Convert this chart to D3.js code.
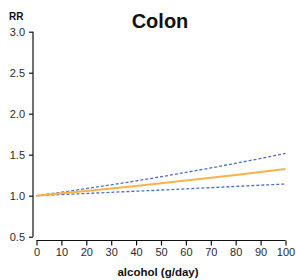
<!DOCTYPE html>
<html><head><meta charset="utf-8">
<script src="https://cdn.jsdelivr.net/npm/d3@7"></script>
<style>body{margin:0;background:#fff}svg{display:block;font-family:"Liberation Sans",Arial,sans-serif}</style>
</head><body>
<script>
const alcohol = [0,10,20,30,40,50,60,70,80,90,100];
const rr      = [1.000,1.029,1.058,1.088,1.119,1.151,1.184,1.218,1.252,1.288,1.325];
const upper   = [1.000,1.042,1.087,1.133,1.181,1.231,1.284,1.338,1.395,1.454,1.516];
const lower   = [1.000,1.013,1.027,1.041,1.055,1.069,1.084,1.098,1.113,1.128,1.143];
const xTicks  = [0,10,20,30,40,50,60,70,80,90,100];
const yTicks  = [0.5,1.0,1.5,2.0,2.5,3.0];

const W=296,H=280;
const svg=d3.select("body").append("svg").attr("width",W).attr("height",H);
const x=d3.scaleLinear().domain([0,100]).range([36.5,285.5]);
const y=d3.scaleLinear().domain([0.5,3]).range([236.7,31.7]);

const xa=svg.append("g").attr("transform","translate(0,240.5)")
  .call(d3.axisBottom(x).tickValues(xTicks).tickFormat(d3.format("d")).tickSize(5).tickPadding(3));
const ya=svg.append("g").attr("transform","translate(33,0)")
  .call(d3.axisLeft(y).tickValues(yTicks).tickFormat(d3.format(".1f")).tickSize(4).tickPadding(4));
[xa,ya].forEach(a=>{
  a.select(".domain").attr("stroke","#111").attr("stroke-width",1.2);
  a.selectAll(".tick line").attr("stroke","#111").attr("stroke-width",1.2);
  a.selectAll("text").attr("font-size",11).style("fill","#2a2a2a").attr("font-family","Liberation Sans, Arial, sans-serif");
});
xa.select(".domain").attr("d",`M${x(0)},0V0H${x(100)}V0`);
ya.select(".domain").attr("d",`M0,${y(0.5)}H0V${y(3)}H0`);

const line=d3.line().x((d,i)=>x(alcohol[i])).y(d=>y(d));
svg.append("path").datum(upper).attr("d",line).attr("fill","none")
  .attr("stroke","#4a70c4").attr("stroke-width",1.3).attr("stroke-dasharray","3,2");
svg.append("path").datum(lower).attr("d",line).attr("fill","none")
  .attr("stroke","#4a70c4").attr("stroke-width",1.3).attr("stroke-dasharray","3,2");
svg.append("path").datum(rr).attr("d",line).attr("fill","none")
  .attr("stroke","#f7b24a").attr("stroke-width",2);

svg.append("text").attr("x",160).attr("y",28).attr("text-anchor","middle")
  .attr("font-size",20).attr("font-weight","bold").attr("fill","#111").text("Colon");
svg.append("text").attr("x",9).attr("y",19.5)
  .attr("font-size",10).attr("font-weight","bold").attr("fill","#111").text("RR");
svg.append("text").attr("x",158).attr("y",276).attr("text-anchor","middle")
  .attr("font-size",11.5).attr("font-weight","bold").attr("fill","#111").text("alcohol (g/day)");
</script>
</body></html>
